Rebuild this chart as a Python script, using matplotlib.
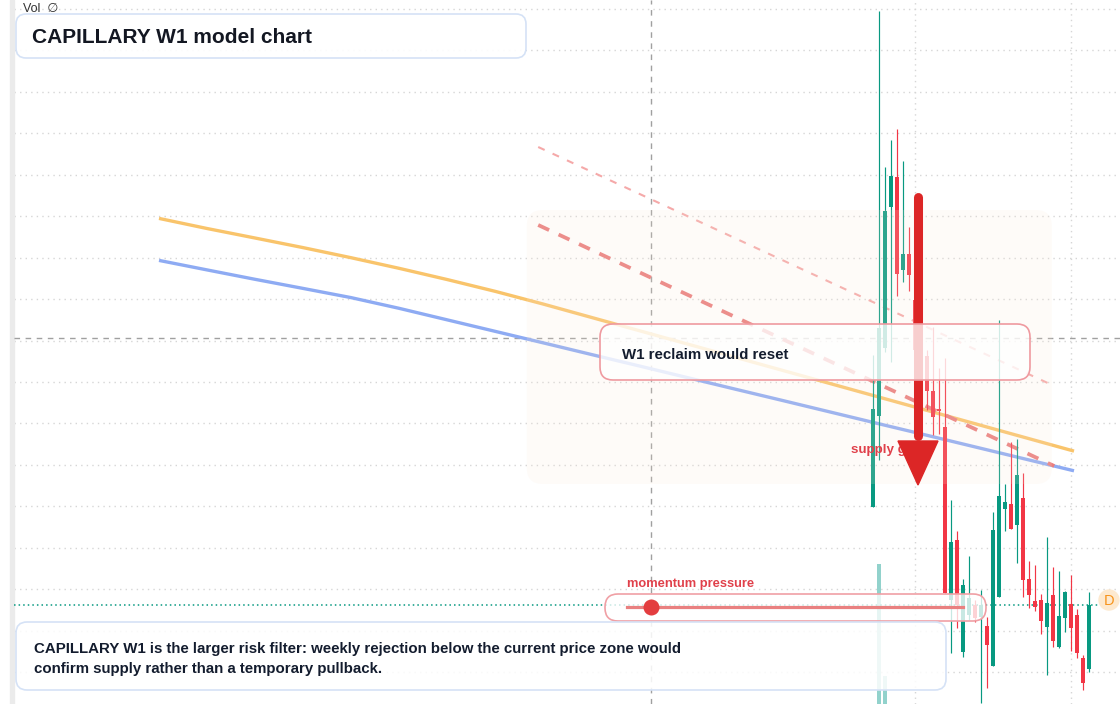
import numpy as np
import matplotlib
matplotlib.use('Agg')
import matplotlib.pyplot as plt
from matplotlib.patches import FancyBboxPatch, Rectangle, Circle, Polygon
from matplotlib.transforms import IdentityTransform

W, H = 1120, 704

# weekly candles, oldest first (price units)
opens  = [19.7, 28.8, 35.6, 49.7, 52.7, 43.4, 45.0, 40.4, 33.3, 34.8, 31.3, 29.5, 27.7,
          10.4, 16.4, 5.2, 8.9, 9.9, 8.7, 7.8, 3.8, 10.7, 19.5, 20.0, 17.9, 20.6, 12.5,
          10.3, 10.4, 7.7, 10.9, 5.7, 8.6, 10.0, 8.9, 4.6, 3.5]
highs  = [34.9, 69.3, 53.7, 56.4, 57.5, 54.3, 47.7, 41.4, 35.9, 35.4, 37.7, 33.6, 34.6,
          20.4, 17.3, 12.5, 14.8, 10.4, 11.4, 8.7, 19.2, 38.4, 22.0, 26.2, 26.5, 23.1, 14.3,
          13.9, 11.0, 16.7, 13.7, 13.3, 11.3, 12.9, 9.5, 4.9, 11.2]
lows   = [19.7, 24.4, 35.2, 34.2, 40.8, 42.2, 41.3, 34.4, 32.6, 29.4, 26.9, 27.0, 11.1,
          5.1, 7.6, 4.7, 8.4, 8.2, 0.1, 1.6, 3.8, 10.7, 17.3, 17.5, 14.1, 10.7, 9.6,
          9.3, 7.0, 2.9, 5.7, 5.6, 7.2, 5.3, 4.6, 1.4, 3.2]
closes = [29.5, 37.6, 49.3, 52.8, 43.0, 45.0, 42.9, 35.4, 35.1, 31.3, 28.7, 29.3, 11.1,
          16.2, 9.9, 11.9, 10.6, 8.6, 9.9, 5.9, 17.4, 20.8, 20.2, 17.5, 22.9, 12.4, 10.9,
          9.7, 8.3, 10.1, 6.3, 8.8, 11.2, 7.6, 5.1, 2.1, 9.9]
volumes = [3.1, 24.9, 9.0, 4.2, 3.8, 2.6, 2.9, 3.3, 2.4, 2.7, 3.0, 2.2, 4.6,
           3.4, 3.1, 2.8, 2.0, 1.8, 2.5, 2.3, 3.9, 4.4, 1.9, 2.6, 2.9, 3.5, 2.1,
           1.7, 1.9, 2.4, 2.6, 2.0, 1.8, 2.2, 2.3, 2.7, 3.0]

# W1 model curves, sampled every 8 bars (bar index, price)
curve_idx = [-119, -111, -103, -95, -87, -79, -71, -63, -55, -47,
             -39, -31, -23, -15, -7, 1, 9, 17, 25, 33.5]
curve_orange = [48.56, 47.55, 46.60, 45.64, 44.63, 43.57, 42.45, 41.27, 40.00, 38.67,
                37.34, 36.01, 34.68, 33.35, 32.02, 30.69, 29.36, 28.03, 26.70, 25.29]
curve_blue = [44.36, 43.41, 42.47, 41.56, 40.64, 39.57, 38.42, 37.27, 36.12, 34.96,
              33.81, 32.65, 31.49, 30.34, 29.18, 28.02, 26.87, 25.71, 24.55, 23.32]

# descending supply lines
supply_idx = [-55.8, 30.2]
supply_upper = [55.7, 31.8]
supply_lower = [47.9, 23.8]

# supply gate zone
zone_idx = [-57.7, 29.8]
zone_price = [22.0, 49.4]

arrow_idx = 7.5
arrow_from = 50.7
arrow_to = 21.9

cross_idx = -37
cross_price = 36.6
grid_idx = [7, 33]
last_price = closes[-1]
momentum = 0.07

GREEN = '#089981'
RED = '#f23645'
TXT = '#131c2e'

plt.rcParams['font.family'] = ['Liberation Sans', 'DejaVu Sans']

fig = plt.figure(figsize=(W / 100, H / 100), dpi=100)
fig.patch.set_facecolor('white')
ax = fig.add_axes([0, 0, 1, 1])
axv = ax.twinx()
axv.set_zorder(ax.get_zorder() - 1)
ax.patch.set_visible(False)
ax.set_xlim(-145.5, -145.5 + W / 6)
ax.set_ylim(0, 70.4)
axv.set_ylim(5, 105)
ax.axis('off')
axv.axis('off')

PX = IdentityTransform()

n = len(opens)
idx = np.arange(n)
cols = [GREEN if c >= o else RED for o, c in zip(opens, closes)]

# volume
vcols = ['#26a69a' if c == GREEN else '#ef5350' for c in cols]
axv.bar(idx, volumes, width=0.78, color=vcols, alpha=0.5, bottom=0)

# grid
for k in range(17):
    ax.axhline(69.5 - 4.145 * k, xmin=14 / W, xmax=1, color='#d6d6d6', lw=1,
               ls=(0, (1, 3)), zorder=0.5)
for g in grid_idx:
    ax.axvline(g, color='#d6d6d6', lw=1, ls=(0, (1, 3)), zorder=0.5)

# left strip
ax.add_patch(Rectangle((10, 0), 4, H, transform=PX, color='#ebebeb', zorder=0.5))

# crosshair
ax.axvline(cross_idx, color='#a0a0a0', lw=1, ls=(0, (4, 4)), zorder=0.6)
ax.axhline(cross_price, xmin=14 / W, xmax=1, color='#a0a0a0', lw=1,
           ls=(0, (4, 4)), zorder=0.6)

# last price
ax.axhline(last_price, xmin=14 / W, xmax=1098 / W, color=GREEN, lw=1.1,
           ls=(0, (1, 2)), zorder=0.7)

# model curves
ax.plot(curve_idx, curve_orange, color='#f9c46b', lw=2.4, zorder=2,
        solid_capstyle='butt', solid_joinstyle='round')
ax.plot(curve_idx, curve_blue, color='#8eabf3', lw=2.4, zorder=2,
        solid_capstyle='butt', solid_joinstyle='round')

# supply lines
ax.plot(supply_idx, supply_upper, color='#f5a9a9', lw=1.5, ls=(0, (3.4, 4.2)), zorder=2)
ax.plot(supply_idx, supply_lower, color='#ea7d7d', lw=2.7, ls=(0, (3.2, 2.8)), zorder=2)

# candles
ax.vlines(idx, lows, highs, colors=cols, lw=0.85, zorder=3)
bot = np.minimum(opens, closes)
hgt = np.maximum(np.abs(np.array(closes) - np.array(opens)), 0.2)
ax.bar(idx, hgt, bottom=bot, width=0.8, color=cols, zorder=3)

# zone shade
(zx0, zy0), (zx1, zy1) = ax.transData.transform([(zone_idx[0], zone_price[0]),
                                                   (zone_idx[1], zone_price[1])])
ax.add_patch(FancyBboxPatch((zx0, zy0), zx1 - zx0, zy1 - zy0,
                            boxstyle='round,pad=0,rounding_size=16', transform=PX,
                            fc='#fbe8d6', ec='none', alpha=0.16, zorder=4))

ax.text(851, H - 450, 'supply gate', transform=PX, ha='left', va='center',
        fontsize=9.6, weight='bold', color='#e0404a', zorder=4.5)

# arrow
head_px = 44
head_base = arrow_to + head_px * 70.4 / H
hw = 20 / 6
ax.plot([arrow_idx, arrow_idx], [arrow_from, head_base + 0.5], color='#dc2626',
        lw=6.5, solid_capstyle='round', zorder=5)
ax.add_patch(Polygon([(arrow_idx - hw, head_base), (arrow_idx + hw, head_base),
                      (arrow_idx, arrow_to)], closed=True, color='#dc2626', zorder=5))


def rbox(x0, y0, x1, y1, r, ec, a, z=6):
    p = FancyBboxPatch((x0, H - y1), x1 - x0, y1 - y0,
                       boxstyle='round,pad=0,rounding_size=%d' % r, transform=PX,
                       fc=(1, 1, 1, a), ec=ec, lw=1.2, zorder=z)
    ax.add_patch(p)


# title
rbox(16, 14, 526, 58, 10, '#d5e2f6', 0.92)
ax.text(32, H - 37.5, 'CAPILLARY W1 model chart', transform=PX, ha='left', va='center',
        fontsize=15, weight='bold', color='#131722', zorder=7)
ax.text(23, H - 9.5, 'Vol  \u2205', transform=PX, ha='left', va='center',
        fontsize=9, color='#333333', zorder=7)

# reclaim box
rbox(600, 324, 1030, 380, 13, '#ef9aa0', 0.78)
ax.text(622, H - 355, 'W1 reclaim would reset', transform=PX, ha='left', va='center',
        fontsize=10.8, weight='bold', color=TXT, zorder=7)

# momentum gauge
ax.text(627, H - 584, 'momentum pressure', transform=PX, ha='left', va='center',
        fontsize=9.3, weight='bold', color='#e0404a', zorder=7)
rbox(605, 594, 986, 621, 13, '#f0a0a5', 0.78)
g0, g1 = 627, 963
ax.plot([g0, g1], [H - 607, H - 607], transform=PX, color='#e98080', lw=2.3, zorder=7)
ax.plot([g0 + momentum * (g1 - g0)], [H - 607], transform=PX, marker='o', ms=10.5,
        color='#e33d3f', zorder=7.5)

# note box
rbox(16, 622, 946, 690, 11, '#d5e2f6', 0.86)
ax.text(34, H - 649, 'CAPILLARY W1 is the larger risk filter: weekly rejection below the current price zone would',
        transform=PX, ha='left', va='center', fontsize=10.8, weight='bold', color=TXT, zorder=7)
ax.text(34, H - 669, 'confirm supply rather than a temporary pullback.',
        transform=PX, ha='left', va='center', fontsize=10.8, weight='bold', color=TXT, zorder=7)

# D marker
ax.add_patch(Circle((1109, H - 600), 10, transform=PX, color='#fde9cf', zorder=7))
ax.text(1109, H - 601, 'D', transform=PX, ha='center', va='center', fontsize=10.5,
        color='#f7931a', zorder=7.5)

ax.set_xlim(-145.5, -145.5 + W / 6)
ax.set_ylim(0, 70.4)
fig.savefig('out.png', dpi=100)
